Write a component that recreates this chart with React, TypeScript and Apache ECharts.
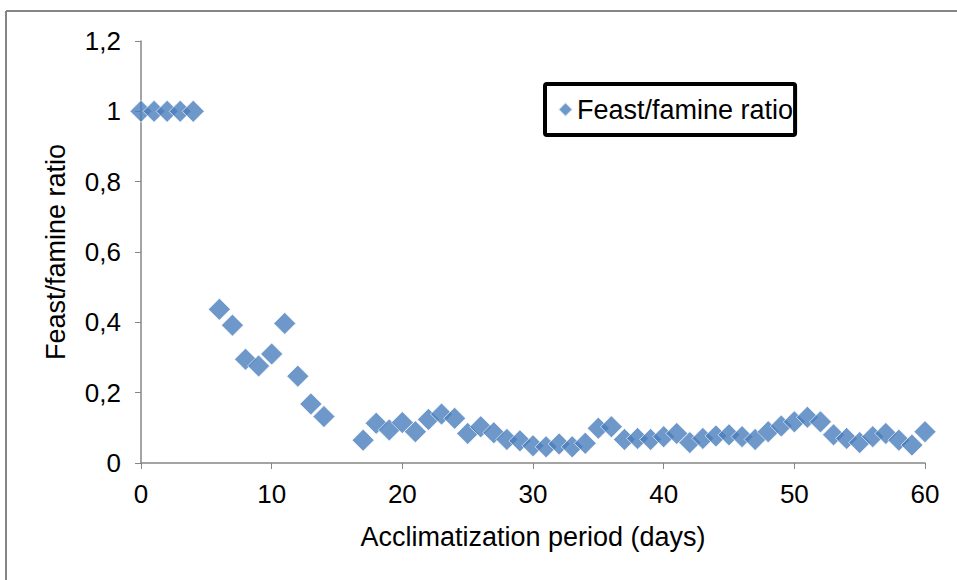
import React, { useEffect, useRef } from "react";
import * as echarts from "echarts";

// Acclimatization day of each measurement
const days = [
  0, 1, 2, 3, 4, 6, 7, 8, 9, 10, 11, 12, 13, 14, 17, 18, 19, 20, 21, 22, 23,
  24, 25, 26, 27, 28, 29, 30, 31, 32, 33, 34, 35, 36, 37, 38, 39, 40, 41, 42,
  43, 44, 45, 46, 47, 48, 49, 50, 51, 52, 53, 54, 55, 56, 57, 58, 59, 60,
];

// Feast/famine ratio measured on each day
const ratio = [
  1, 1, 1, 1, 1, 0.437, 0.392, 0.295, 0.276, 0.31, 0.397, 0.247, 0.168, 0.132,
  0.065, 0.113, 0.094, 0.115, 0.089, 0.124, 0.139, 0.127, 0.084, 0.103, 0.086,
  0.067, 0.063, 0.049, 0.046, 0.054, 0.046, 0.056, 0.099, 0.103, 0.067, 0.07,
  0.067, 0.075, 0.084, 0.058, 0.07, 0.077, 0.08, 0.075, 0.067, 0.089, 0.105,
  0.117, 0.13, 0.117, 0.08, 0.07, 0.058, 0.075, 0.084, 0.065, 0.051, 0.089,
];

const seriesName = "Feast/famine ratio";
const xTitle = "Acclimatization period (days)";
const yTitle = "Feast/famine ratio";

const FONT = "'Liberation Sans', Arial, sans-serif";
const BLUE = "#4A7EBB";
const TITLE_SIZE = 27;
const TICK_SIZE = 26;

export default function App() {
  const ref = useRef<HTMLDivElement>(null);

  useEffect(() => {
    if (!ref.current) return;
    const chart = echarts.init(ref.current, null, { renderer: "svg" });
    chart.setOption({
      animation: false,
      backgroundColor: "#ffffff",
      grid: { left: 141, right: 32, top: 41, bottom: 117 },
      graphic: [
        {
          type: "line",
          shape: { x1: 6, y1: 11, x2: 957, y2: 11 },
          style: { stroke: "#858585", lineWidth: 2 },
        },
        {
          type: "line",
          shape: { x1: 6, y1: 11, x2: 6, y2: 580 },
          style: { stroke: "#858585", lineWidth: 2 },
        },
      ],
      legend: {
        left: 545,
        top: 84,
        padding: [12, 2, 12, 12],
        borderColor: "#000000",
        borderWidth: 4,
        borderRadius: 2,
        itemWidth: 15,
        itemHeight: 15,
        itemGap: 0,
        textStyle: { fontFamily: FONT, fontSize: TITLE_SIZE, color: "#000000", padding: [0, 0, 0, -1] },
        data: [{ name: seriesName, icon: "diamond" }],
      },
      xAxis: {
        type: "value",
        min: 0,
        max: 60,
        interval: 10,
        name: xTitle,
        nameLocation: "middle",
        nameGap: 60,
        nameTextStyle: { fontFamily: FONT, fontSize: TITLE_SIZE, color: "#000000" },
        axisLine: { lineStyle: { color: "#868686", width: 1.5 } },
        axisTick: { length: 6, lineStyle: { color: "#868686" } },
        axisLabel: {
          fontFamily: FONT,
          fontSize: TICK_SIZE,
          color: "#000000",
          margin: 18,
        },
        splitLine: { show: false },
      },
      yAxis: {
        type: "value",
        min: 0,
        max: 1.2,
        interval: 0.2,
        name: yTitle,
        nameLocation: "middle",
        nameGap: 72,
        nameTextStyle: { fontFamily: FONT, fontSize: TITLE_SIZE, color: "#000000" },
        axisLine: { show: true, lineStyle: { color: "#868686", width: 1.5 } },
        axisTick: { show: true, length: 6, lineStyle: { color: "#868686" } },
        axisLabel: {
          fontFamily: FONT,
          fontSize: TICK_SIZE,
          color: "#000000",
          margin: 20,
          formatter: (v: number) =>
            String(Math.round(v * 10) / 10).replace(".", ","),
        },
        splitLine: { show: false },
      },
      series: [
        {
          name: seriesName,
          type: "scatter",
          symbol: "diamond",
          symbolSize: 22,
          itemStyle: { color: BLUE, borderColor: "#ffffff", borderWidth: 0.8 },
          data: days.map((d, i) => [d, ratio[i]]),
        },
      ],
    });
    return () => chart.dispose();
  }, []);

  return (
    <div
      ref={ref}
      style={{ position: "fixed", left: 0, top: 0, width: 957, height: 580 }}
    />
  );
}
